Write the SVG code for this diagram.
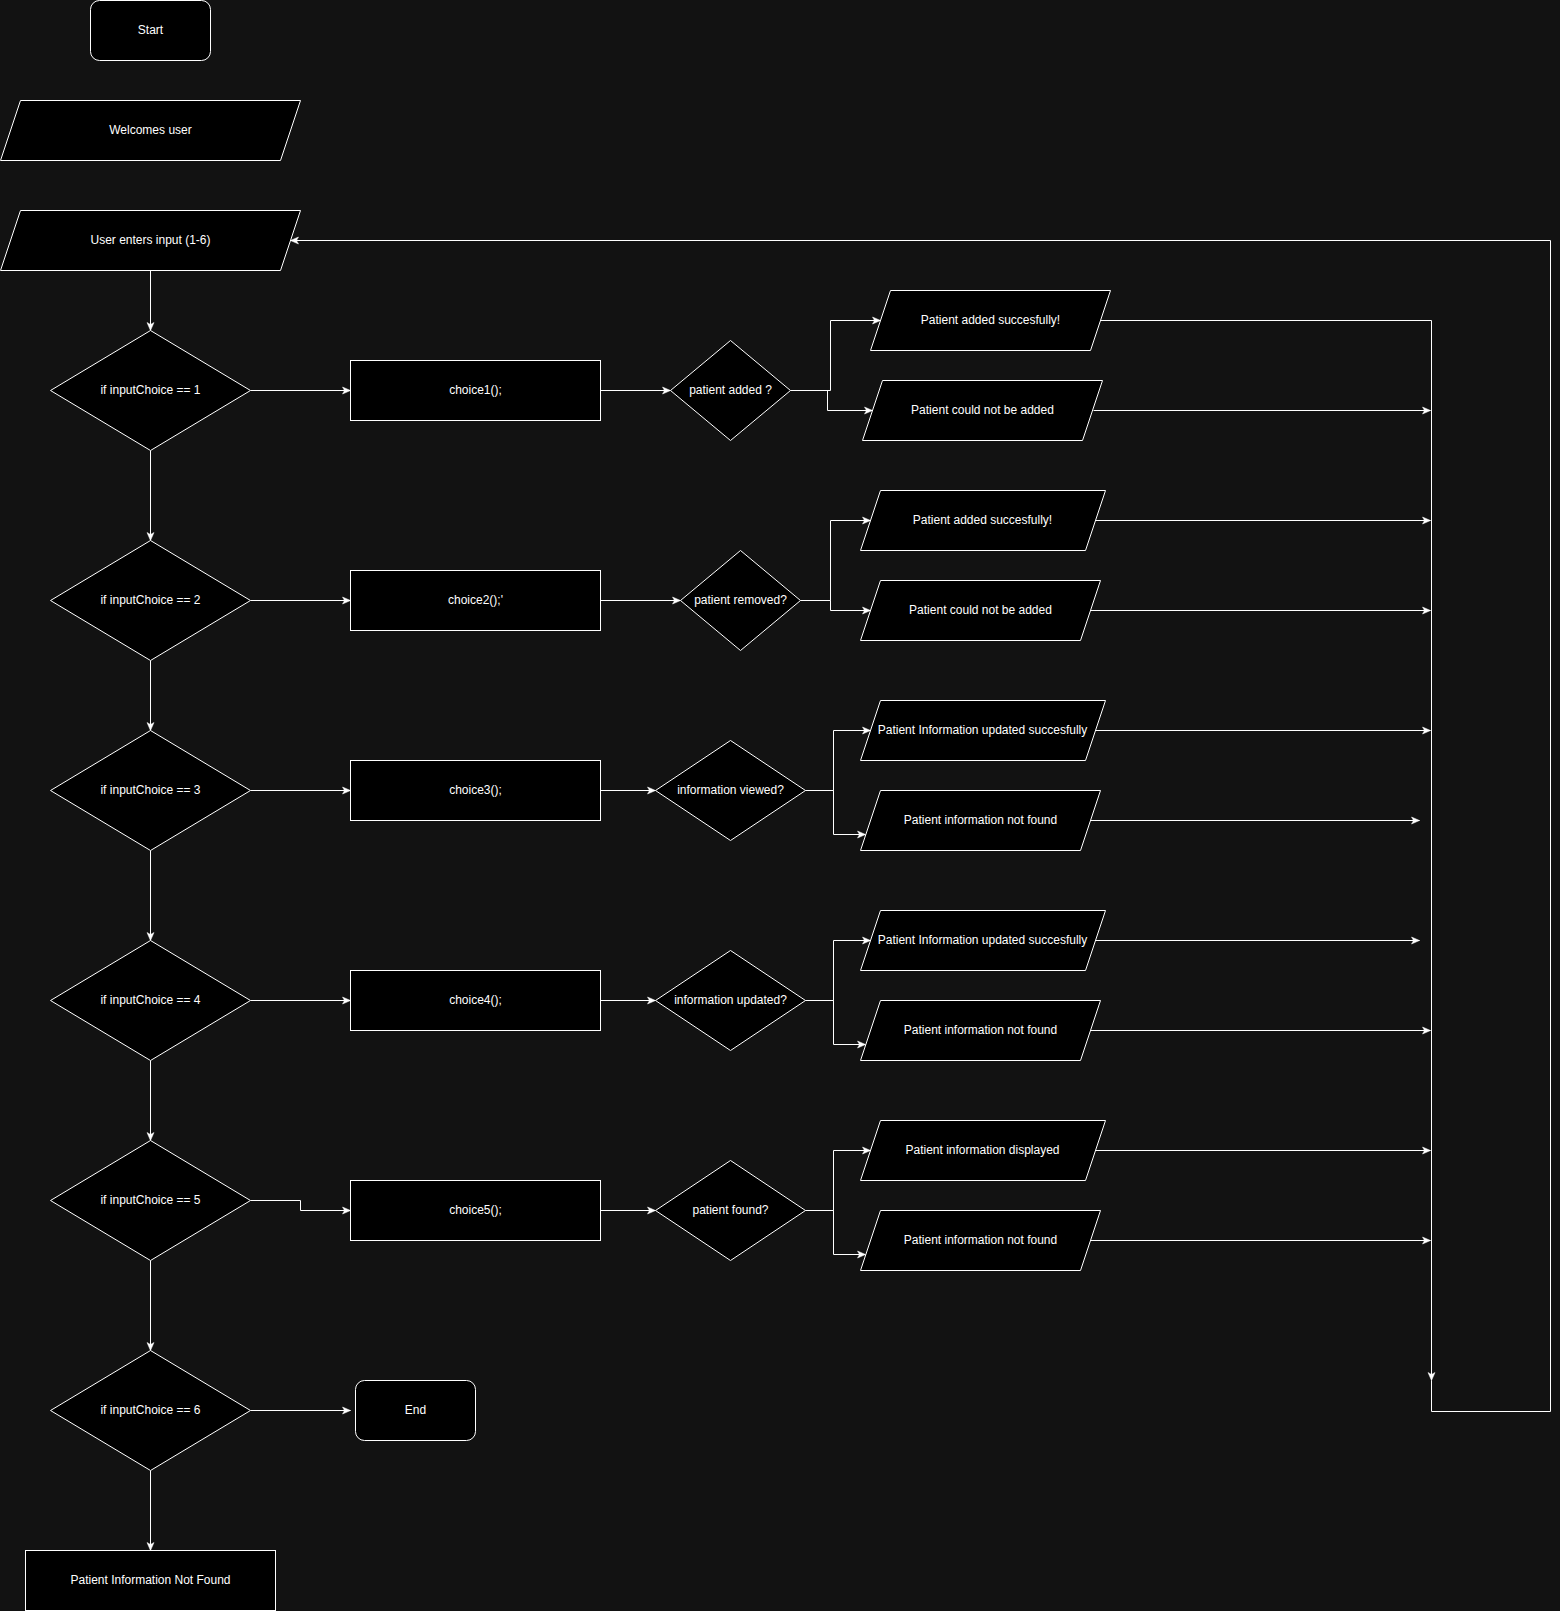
<svg xmlns="http://www.w3.org/2000/svg" width="1560" height="1611" viewBox="0 0 1560 1611">
<defs>
<style>
.s{fill:#000000;stroke:#ffffff;stroke-width:1}
.t{font-family:"Liberation Sans",Arial,Helvetica,sans-serif;font-size:12px;fill:#ffffff;text-anchor:middle;dominant-baseline:central}
.c{fill:none;stroke:#ffffff;stroke-width:1}
.a{marker-end:url(#arr)}
</style>
<marker id="arr" viewBox="0 0 10 10" refX="9" refY="5" markerWidth="10" markerHeight="10" markerUnits="userSpaceOnUse" orient="auto">
<path d="M1,1.5 L9,5 L1,8.5 L3,5 z" fill="#ffffff" stroke="#ffffff" stroke-width="0.5"/>
</marker>
</defs>
<rect x="0" y="0" width="1560" height="1611" fill="#121212"/>
<g transform="translate(0.5,0.5)">
<g id="connectors">
<path class="c a" d="M150,270 V330"/>
<path class="c a" d="M150,450 V540"/>
<path class="c a" d="M150,660 V730"/>
<path class="c a" d="M150,850 V940"/>
<path class="c a" d="M150,1060 V1140"/>
<path class="c a" d="M150,1260 V1350"/>
<path class="c a" d="M150,1470 V1550"/>
<path class="c a" d="M250,390 H350"/>
<path class="c a" d="M250,600 H350"/>
<path class="c a" d="M250,790 H350"/>
<path class="c a" d="M250,1000 H350"/>
<path class="c a" d="M250,1200 H300 V1210 H350"/>
<path class="c a" d="M250,1410 H350"/>
<path class="c a" d="M600,390 H670"/>
<path class="c a" d="M600,600 H680"/>
<path class="c a" d="M600,790 H655"/>
<path class="c a" d="M600,1000 H655"/>
<path class="c a" d="M600,1210 H655"/>
<path class="c a" d="M790,390 H830 V320 H880"/>
<path class="c a" d="M790,390 H827 V410 H872"/>
<path class="c a" d="M800,600 H830 V520 H870"/>
<path class="c a" d="M800,600 H830 V610 H870"/>
<path class="c a" d="M805,790 H833 V730 H870"/>
<path class="c a" d="M805,790 H833 V834 H865"/>
<path class="c a" d="M805,1000 H833 V940 H870"/>
<path class="c a" d="M805,1000 H833 V1044 H865"/>
<path class="c a" d="M805,1210 H833 V1150 H870"/>
<path class="c a" d="M805,1210 H833 V1254 H865"/>
<path class="c a" d="M1100,320 H1431 V1380"/>
<path class="c a" d="M1431,1380 V1411 H1550 V240 H290"/>
<path class="c a" d="M1093,410 H1430"/>
<path class="c a" d="M1095,520 H1430"/>
<path class="c a" d="M1090,610 H1430"/>
<path class="c a" d="M1095,730 H1430"/>
<path class="c a" d="M1090,820 H1419"/>
<path class="c a" d="M1095,940 H1419"/>
<path class="c a" d="M1090,1030 H1430"/>
<path class="c a" d="M1095,1150 H1430"/>
<path class="c a" d="M1090,1240 H1430"/>
</g>
<g id="start"><rect class="s" x="90" y="0" width="120" height="60" rx="9"/><text class="t" x="150" y="29">Start</text></g>
<g id="welcome"><polygon class="s" points="20,100 300,100 280,160 0,160"/><text class="t" x="150" y="129">Welcomes user</text></g>
<g id="input"><polygon class="s" points="20,210 300,210 280,270 0,270"/><text class="t" x="150" y="239">User enters input (1-6)</text></g>
<g id="d1"><polygon class="s" points="150,330 250,390 150,450 50,390"/><text class="t" x="150" y="389">if inputChoice == 1</text></g>
<g id="d2"><polygon class="s" points="150,540 250,600 150,660 50,600"/><text class="t" x="150" y="599">if inputChoice == 2</text></g>
<g id="d3"><polygon class="s" points="150,730 250,790 150,850 50,790"/><text class="t" x="150" y="789">if inputChoice == 3</text></g>
<g id="d4"><polygon class="s" points="150,940 250,1000 150,1060 50,1000"/><text class="t" x="150" y="999">if inputChoice == 4</text></g>
<g id="d5"><polygon class="s" points="150,1140 250,1200 150,1260 50,1200"/><text class="t" x="150" y="1199">if inputChoice == 5</text></g>
<g id="d6"><polygon class="s" points="150,1350 250,1410 150,1470 50,1410"/><text class="t" x="150" y="1409">if inputChoice == 6</text></g>
<g id="c1"><rect class="s" x="350" y="360" width="250" height="60"/><text class="t" x="475" y="389">choice1();</text></g>
<g id="c2"><rect class="s" x="350" y="570" width="250" height="60"/><text class="t" x="475" y="599">choice2();'</text></g>
<g id="c3"><rect class="s" x="350" y="760" width="250" height="60"/><text class="t" x="475" y="789">choice3();</text></g>
<g id="c4"><rect class="s" x="350" y="970" width="250" height="60"/><text class="t" x="475" y="999">choice4();</text></g>
<g id="c5"><rect class="s" x="350" y="1180" width="250" height="60"/><text class="t" x="475" y="1209">choice5();</text></g>
<g id="q1"><polygon class="s" points="730,340 790,390 730,440 670,390"/><text class="t" x="730" y="389">patient added ?</text></g>
<g id="q2"><polygon class="s" points="740,550 800,600 740,650 680,600"/><text class="t" x="740" y="599">patient removed?</text></g>
<g id="q3"><polygon class="s" points="730,740 805,790 730,840 655,790"/><text class="t" x="730" y="789">information viewed?</text></g>
<g id="q4"><polygon class="s" points="730,950 805,1000 730,1050 655,1000"/><text class="t" x="730" y="999">information updated?</text></g>
<g id="q5"><polygon class="s" points="730,1160 805,1210 730,1260 655,1210"/><text class="t" x="730" y="1209">patient found?</text></g>
<g id="r1a"><polygon class="s" points="890,290 1110,290 1090,350 870,350"/><text class="t" x="990" y="319">Patient added succesfully!</text></g>
<g id="r1b"><polygon class="s" points="882,380 1102,380 1082,440 862,440"/><text class="t" x="982" y="409">Patient could not be added</text></g>
<g id="r2a"><polygon class="s" points="880,490 1105,490 1085,550 860,550"/><text class="t" x="982" y="519">Patient added succesfully!</text></g>
<g id="r2b"><polygon class="s" points="880,580 1100,580 1080,640 860,640"/><text class="t" x="980" y="609">Patient could not be added</text></g>
<g id="r3a"><polygon class="s" points="880,700 1105,700 1085,760 860,760"/><text class="t" x="982" y="729">Patient Information updated succesfully</text></g>
<g id="r3b"><polygon class="s" points="880,790 1100,790 1080,850 860,850"/><text class="t" x="980" y="819">Patient information not found</text></g>
<g id="r4a"><polygon class="s" points="880,910 1105,910 1085,970 860,970"/><text class="t" x="982" y="939">Patient Information updated succesfully</text></g>
<g id="r4b"><polygon class="s" points="880,1000 1100,1000 1080,1060 860,1060"/><text class="t" x="980" y="1029">Patient information not found</text></g>
<g id="r5a"><polygon class="s" points="880,1120 1105,1120 1085,1180 860,1180"/><text class="t" x="982" y="1149">Patient information displayed</text></g>
<g id="r5b"><polygon class="s" points="880,1210 1100,1210 1080,1270 860,1270"/><text class="t" x="980" y="1239">Patient information not found</text></g>
<g id="end"><rect class="s" x="355" y="1380" width="120" height="60" rx="9"/><text class="t" x="415" y="1409">End</text></g>
<g id="notfound"><rect class="s" x="25" y="1550" width="250" height="60"/><text class="t" x="150" y="1579">Patient Information Not Found</text></g>
</g>
</svg>
